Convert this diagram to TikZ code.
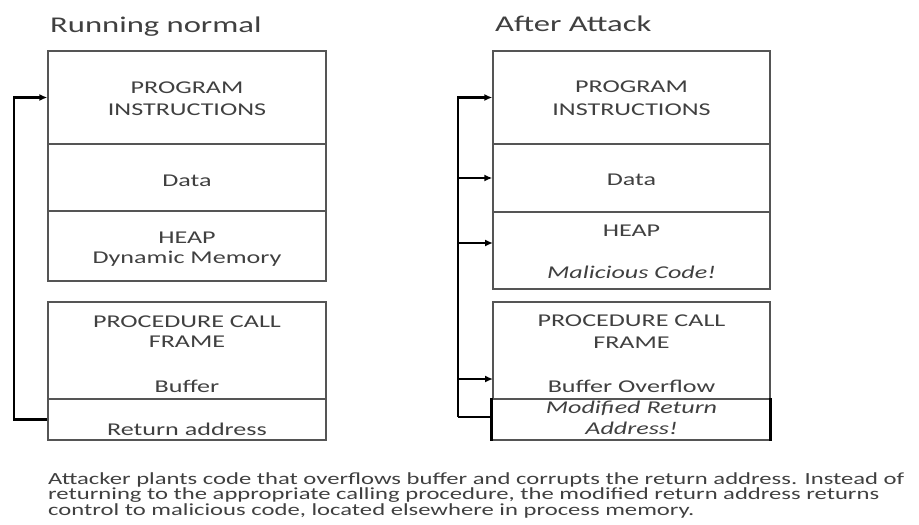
\documentclass[tikz,border=0pt]{standalone}
\usepackage{fontspec}
\setmainfont{Carlito}[FakeStretch=1.45]
\usetikzlibrary{arrows.meta}
\definecolor{ink}{HTML}{404040}
\definecolor{rule}{HTML}{555555}
\tikzset{
  cell/.style={draw=rule, line width=1.3pt, rectangle, inner sep=0pt},
  lbl/.style={text=ink, font=\fontsize{18}{20}\selectfont, anchor=base, inner sep=0pt},
  ilbl/.style={lbl, font=\fontsize{18}{20}\selectfont\itshape},
  ttl/.style={text=ink, font=\fontsize{22.5}{24}\selectfont, anchor=base west, inner sep=0pt},
  link/.style={draw=black, line width=2.4pt, line join=miter},
  tip/.style={-{Latex[length=8pt,width=7pt]}},
}
\begin{document}
\begin{tikzpicture}[x=1pt,y=-1pt]
\useasboundingbox[fill=white] (0,0) rectangle (919,525);

% ---------- left stack: normal run ----------
\node[ttl] (ltitle) at (50,32) {Running normal};
\node[cell, minimum width=278pt, minimum height=93pt] (lprog) at (187,97.5) {};
\node[cell, minimum width=278pt, minimum height=67pt] (ldata) at (187,177.5) {};
\node[cell, minimum width=278pt, minimum height=70pt] (lheap) at (187,246) {};
\node[cell, minimum width=278pt, minimum height=97pt] (lframe) at (187,350.5) {};
\node[cell, minimum width=278pt, minimum height=41pt] (lret) at (187,419.5) {};

\node[lbl] (lp1) at (187,93) {PROGRAM};
\node[lbl] (lp2) at (187,115) {INSTRUCTIONS};
\node[lbl] (ld) at (187,186) {Data};
\node[lbl] (lh1) at (187,243) {HEAP};
\node[lbl] (lh2) at (187,263) {Dynamic Memory};
\node[lbl] (lf1) at (187,327) {PROCEDURE CALL};
\node[lbl] (lf2) at (187,347) {FRAME};
\node[lbl] (lf3) at (187,392) {Buffer};
\node[lbl] (lr) at (187,435) {Return address};

\coordinate (lbend) at (14,97.5);
\draw[link,tip] (lret.west) -| (lbend) -- (lprog.west);

% ---------- right stack: after the attack ----------
\node[ttl] (rtitle) at (495,31) {After Attack};
\node[cell, minimum width=277pt, minimum height=93pt] (rprog) at (631.5,97.5) {};
\node[cell, minimum width=277pt, minimum height=68pt] (rdata) at (631.5,178) {};
\node[cell, minimum width=277pt, minimum height=77pt] (rheap) at (631.5,250.5) {};
\node[cell, minimum width=277pt, minimum height=97pt] (rframe) at (631.5,350.5) {};
\node[cell, minimum width=278pt, minimum height=41pt] (rret) at (631,419.5) {};
\draw[draw=black, line width=2.6pt] (rret.north west) -- (rret.south west);
\draw[draw=black, line width=2.6pt] (rret.north east) -- (rret.south east);

\node[lbl] (rp1) at (631.5,92) {PROGRAM};
\node[lbl] (rp2) at (631.5,115) {INSTRUCTIONS};
\node[lbl] (rd) at (631.5,185) {Data};
\node[lbl] (rh1) at (631.5,236) {HEAP};
\node[ilbl] (rh2) at (631.5,278) {Malicious Code!};
\node[lbl] (rf1) at (631.5,326) {PROCEDURE CALL};
\node[lbl] (rf2) at (631.5,348) {FRAME};
\node[lbl] (rf3) at (631.5,392) {Buffer Overflow};
\node[ilbl] (rr1) at (631.5,413) {Modified Return};
\node[ilbl] (rr2) at (631.5,434) {Address!};

\coordinate (rbus) at (458,97.5);
\coordinate (rbot) at (458,417);
\coordinate (rheapin) at (493,243);
\coordinate (rbufin) at (493,379);
\draw[link] (rbot) -- (rret.west |- rbot);
\draw[link,tip] (rbot) -- (rbus) -- (rprog.west);
\draw[link,tip] (rbus |- rdata.west) -- (rdata.west);
\draw[link,tip] (rbus |- rheapin) -- (rheapin);
\draw[link,tip] (rbus |- rbufin) -- (rbufin);

% ---------- caption (anchored at the baseline of its last line) ----------
\node[text=ink, font=\fontsize{17}{15.5}\selectfont, align=left, anchor=base west, inner sep=0pt] (caption) at (48,515)
  {Attacker plants code that overflows buffer and corrupts the return address. Instead of\\
   returning to the appropriate calling procedure, the modified return address returns\\
   control to malicious code, located elsewhere in process memory.};
\end{tikzpicture}
\end{document}
